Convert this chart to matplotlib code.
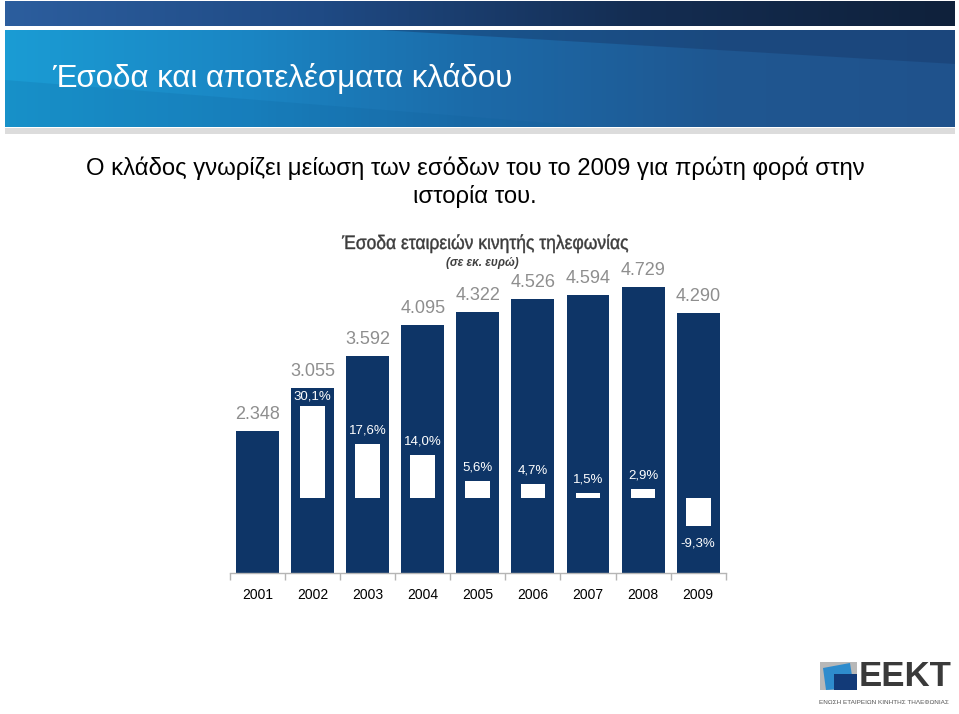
import numpy as np
import matplotlib
matplotlib.use("Agg")
import matplotlib.pyplot as plt
from matplotlib.patches import Rectangle, Polygon, PathPatch
from matplotlib.colors import LinearSegmentedColormap
from matplotlib.textpath import TextPath
from matplotlib.font_manager import FontProperties
from matplotlib.transforms import Affine2D

years = ["2001", "2002", "2003", "2004", "2005", "2006", "2007", "2008", "2009"]
revenue = [2348, 3055, 3592, 4095, 4322, 4526, 4594, 4729, 4290]
growth = [None, 30.1, 17.6, 14.0, 5.6, 4.7, 1.5, 2.9, -9.3]
revenue_labels = ["2.348", "3.055", "3.592", "4.095", "4.322", "4.526", "4.594", "4.729", "4.290"]
growth_labels = [None, "30,1%", "17,6%", "14,0%", "5,6%", "4,7%", "1,5%", "2,9%", "-9,3%"]

title = "Έσοδα και αποτελέσματα κλάδου"
subtitle1 = "Ο κλάδος γνωρίζει μείωση των εσόδων του το 2009 για πρώτη φορά στην"
subtitle2 = "ιστορία του."
chart_title = "Έσοδα εταιρειών κινητής τηλεφωνίας"
chart_unit = "(σε εκ. ευρώ)"

W, H = 959, 714
fig = plt.figure(figsize=(W / 100, H / 100), dpi=100)
fig.patch.set_facecolor("white")

bg = fig.add_axes([0, 0, 1, 1])
bg.set_xlim(0, W)
bg.set_ylim(H, 0)
bg.axis("off")

# header top dark band
cm1 = LinearSegmentedColormap.from_list("b1", ["#2c5e9e", "#1f4a84", "#142d52", "#0f213b"])
grad = np.linspace(0, 1, 256).reshape(1, -1)
bg.imshow(grad, cmap=cm1, extent=(5, 955, 26, 1), aspect="auto", zorder=1)
# header main band
cm2 = LinearSegmentedColormap.from_list("b2", ["#1b9cd4", "#1a86c4", "#1c6aa8", "#1f5791", "#1f528c"])
bg.imshow(grad, cmap=cm2, extent=(5, 955, 127, 30), aspect="auto", zorder=1)
bg.add_patch(Polygon([(380, 30), (955, 30), (955, 64)], closed=True,
                     facecolor="#17396a", alpha=0.45, lw=0, zorder=2))
bg.add_patch(Polygon([(5, 80), (600, 127), (5, 127)], closed=True,
                     facecolor="#0b5f98", alpha=0.18, lw=0, zorder=2))
bg.add_patch(Rectangle((5, 128), 950, 6, facecolor="#dcdcdc", lw=0, zorder=1))
bg.set_xlim(0, W)
bg.set_ylim(H, 0)

bg.text(52, 78, title, color="white", fontsize=22.5, va="center", ha="left",
        family=["Liberation Sans", "DejaVu Sans"], zorder=3)
bg.text(475, 168, subtitle1, color="black", fontsize=17.2, va="center", ha="center",
        family=["Liberation Sans", "DejaVu Sans"], zorder=3)
bg.text(475, 197, subtitle2, color="black", fontsize=17.2, va="center", ha="center",
        family=["Liberation Sans", "DejaVu Sans"], zorder=3)

# condensed chart title drawn as a horizontally squeezed text path
tp = TextPath((0, 0), chart_title, size=19.5, prop=FontProperties(family="Liberation Sans"))
ext = tp.get_extents()
target_w = 286.0
sx = target_w / ext.width
tr = Affine2D().translate(-ext.x0, 0).scale(sx, -1).translate(485 - target_w / 2, 249)
bg.add_patch(PathPatch(tr.transform_path(tp), facecolor="#3c3c3c", edgecolor="#3c3c3c",
                       lw=0.3, zorder=3))

bg.text(482, 263, chart_unit, color="#404040", fontsize=8.5, va="center", ha="center",
        fontweight="bold", fontstyle="italic",
        family=["Liberation Sans", "DejaVu Sans"], zorder=3)

# logo
bg.add_patch(Rectangle((820, 662), 37, 28, facecolor="#b8b8b8", lw=0, zorder=3))
bg.add_patch(Polygon([(823, 668), (850, 663), (854, 688), (826, 690)], closed=True,
                     facecolor="#2e8ccd", lw=0, zorder=4))
bg.add_patch(Rectangle((834, 674), 23, 16, facecolor="#123a78", lw=0, zorder=5))
bg.text(905, 677, "EEKT", color="#3a3a3a", fontsize=25, fontweight="bold",
        va="center", ha="center",
        family=["Liberation Sans Narrow", "Liberation Sans", "DejaVu Sans"], zorder=4)
bg.text(884, 703, "ΕΝΩΣΗ ΕΤΑΙΡΕΙΩΝ ΚΙΝΗΤΗΣ ΤΗΛΕΦΩΝΙΑΣ", color="#555555", fontsize=4.6,
        va="center", ha="center", family=["Liberation Sans", "DejaVu Sans"], zorder=4)

# chart
px_per_unit = 0.0605
ax_left, ax_right, ax_bottom, ax_h = 230, 725.7, 573, 320
ax = fig.add_axes([ax_left / W, (H - ax_bottom) / H, (ax_right - ax_left) / W, ax_h / H])
ax.patch.set_alpha(0)
x = np.arange(len(years))
navy = "#0e3567"
ax.bar(x, revenue, width=0.78, color=navy, zorder=2)
ax.set_xlim(-0.5, len(years) - 0.5)
ax.set_ylim(0, ax_h / px_per_unit)
for xi, v, lab in zip(x, revenue, revenue_labels):
    ax.annotate(lab, (xi, v), xytext=(0, 16.5), textcoords="offset pixels",
                ha="center", va="center", color="#8e8e8e", fontsize=13,
                family=["Liberation Sans", "DejaVu Sans"])
for s in ["top", "right", "left"]:
    ax.spines[s].set_visible(False)
ax.spines["bottom"].set_color("#b5b5b5")
ax.spines["bottom"].set_linewidth(1.0)
ax.set_yticks([])
ax.set_xticks(np.arange(-0.5, len(years), 1.0), minor=False)
ax.set_xticklabels([])
ax.tick_params(axis="x", length=5, color="#b5b5b5", width=1.0)
ax.set_xticks(x, minor=True)
ax.set_xticklabels(years, minor=True, fontsize=10, family=["Liberation Sans", "DejaVu Sans"])
ax.tick_params(axis="x", which="minor", length=0, pad=11)

ax2 = ax.twinx()
ax2.patch.set_alpha(0)
px_per_pct = 3.05
zero_off = 75
ax2.set_ylim(-zero_off / px_per_pct, (ax_h - zero_off) / px_per_pct)
gx = [xi for xi, g in zip(x, growth) if g is not None]
gv = [g for g in growth if g is not None]
gl = [l for l in growth_labels if l is not None]
ax2.bar(gx, gv, width=0.45, color="white", zorder=3)
for xi, g, lab in zip(gx, gv, gl):
    if g >= 0:
        off = 10 if g > 25 else 13.5
        ax2.annotate(lab, (xi, g), xytext=(0, off), textcoords="offset pixels",
                     ha="center", va="center", color="white", fontsize=9.5,
                     family=["Liberation Sans", "DejaVu Sans"])
    else:
        ax2.annotate(lab, (xi, g), xytext=(0, -17), textcoords="offset pixels",
                     ha="center", va="center", color="white", fontsize=9.5,
                     family=["Liberation Sans", "DejaVu Sans"])
ax2.axis("off")

fig.savefig("out.png", dpi=100)
